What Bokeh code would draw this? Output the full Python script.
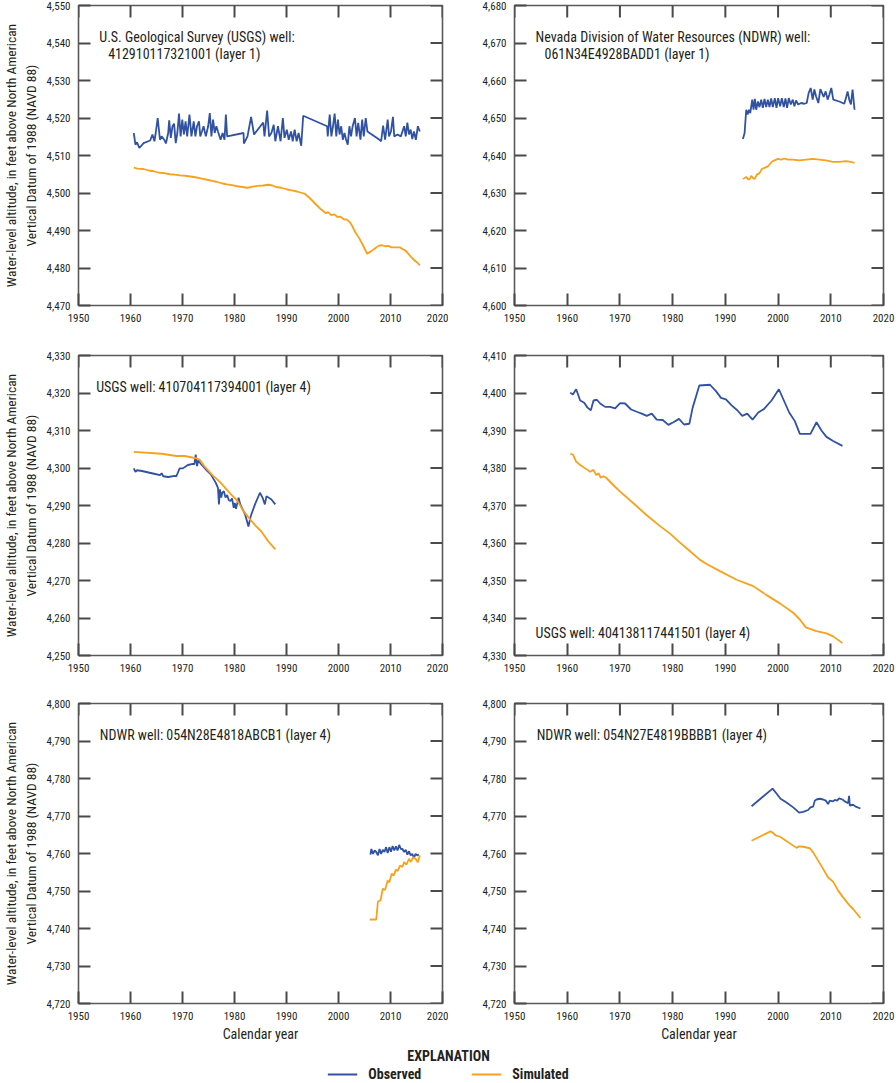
import math

from bokeh.plotting import figure
from bokeh.models import (Range1d, FixedTicker, NumeralTickFormatter,
                          Legend, LegendItem)
from bokeh.core.properties import value
from bokeh.layouts import column, row
from bokeh.embed import file_html
from bokeh.resources import INLINE

# ---------------------------------------------------------------------------
# Water-level hydrographs: observed vs simulated, six wells
# ---------------------------------------------------------------------------

# USGS well 412910117321001 (layer 1)
w1_obs_year = [1960.63, 1960.95, 1961.26, 1961.70, 1962.52, 1963.78, 1964.22, 1964.60, 1964.85, 1965.23,
               1965.67, 1965.99, 1966.49, 1966.81, 1967.25, 1967.44, 1967.75, 1968.07, 1968.38, 1968.70,
               1969.01, 1969.33, 1969.64, 1969.96, 1970.27, 1970.59, 1970.90, 1971.34, 1971.72, 1972.16,
               1972.48, 1972.79, 1973.17, 1973.42, 1973.74, 1974.05, 1974.49, 1974.93, 1975.25, 1975.56,
               1975.88, 1976.19, 1976.51, 1976.82, 1977.33, 1977.71, 1978.08, 1978.34, 1978.59, 1981.74,
               1981.80, 1982.50, 1983.19, 1983.76, 1985.52, 1985.77, 1986.28, 1986.65, 1987.10, 1987.54,
               1987.85, 1988.36, 1988.86, 1989.30, 1989.62, 1990.06, 1990.43, 1990.88, 1991.19, 1991.57,
               1991.95, 1992.33, 1992.83, 1993.21, 1997.81, 1997.93, 1998.31, 1998.63, 1998.94, 1999.26,
               1999.57, 1999.89, 2000.20, 2000.52, 2000.83, 2001.15, 2001.46, 2001.78, 2002.09, 2002.41,
               2002.72, 2003.16, 2003.48, 2003.79, 2004.23, 2004.55, 2004.86, 2005.24, 2005.56, 2007.89,
               2008.20, 2008.58, 2008.96, 2009.46, 2009.72, 2010.09, 2010.47, 2010.72, 2011.35, 2011.99,
               2012.62, 2012.93, 2013.24, 2013.56, 2013.88, 2014.19, 2014.51, 2014.88, 2015.26, 2015.64]
w1_obs_level = [4516.0, 4512.9, 4513.5, 4512.0, 4513.3, 4514.0, 4515.6, 4513.8, 4516.0, 4520.0,
                4514.2, 4515.1, 4514.2, 4513.2, 4516.0, 4519.4, 4514.7, 4517.8, 4518.5, 4513.3,
                4516.0, 4521.2, 4515.1, 4519.6, 4515.6, 4519.1, 4515.1, 4520.9, 4515.1, 4519.1,
                4515.1, 4517.8, 4519.1, 4515.1, 4516.4, 4517.8, 4515.1, 4517.8, 4521.3, 4515.1,
                4519.6, 4516.0, 4517.8, 4516.4, 4514.2, 4516.0, 4514.2, 4520.9, 4515.1, 4516.0,
                4513.2, 4515.1, 4520.3, 4515.6, 4518.8, 4515.1, 4522.0, 4515.1, 4516.0, 4518.2,
                4513.8, 4517.8, 4513.8, 4520.0, 4514.7, 4516.9, 4514.2, 4516.4, 4513.8, 4516.9,
                4513.8, 4516.0, 4512.6, 4520.6, 4517.8, 4515.1, 4520.9, 4515.1, 4517.8, 4521.2,
                4515.1, 4519.6, 4515.6, 4517.8, 4514.2, 4516.0, 4514.2, 4512.9, 4517.8, 4515.1,
                4517.8, 4520.0, 4515.1, 4518.7, 4514.2, 4519.6, 4515.1, 4520.0, 4516.4, 4514.2,
                4513.8, 4518.0, 4514.2, 4519.6, 4515.1, 4516.4, 4520.3, 4515.1, 4515.6, 4515.1,
                4517.8, 4515.1, 4518.8, 4515.6, 4516.9, 4514.4, 4516.4, 4514.2, 4517.8, 4516.4]
w1_sim_year = [1960.63, 1961.3, 1962.5, 1963.5, 1964.5, 1965.5, 1966.5, 1967.5, 1968.5, 1969.5,
               1970.5, 1971.5, 1972.5, 1973.5, 1974.5, 1975.5, 1976.5, 1977.5, 1978.5, 1979.5,
               1980.5, 1981.5, 1982.5, 1983.5, 1984.5, 1985.5, 1986.5, 1987.3, 1988.0, 1989.0,
               1990.0, 1991.0, 1992.0, 1993.5, 1994.5, 1995.5, 1996.5, 1997.6, 1998.0, 1998.6,
               1999.2, 1999.8, 2000.4, 2001.0, 2001.6, 2002.2, 2002.6, 2003.2, 2004.0, 2004.8,
               2005.5, 2006.3, 2007.0, 2007.7, 2008.3, 2009.0, 2009.6, 2010.2, 2011.0, 2011.8,
               2012.4, 2013.0, 2013.6, 2014.2, 2014.8, 2015.2, 2015.64]
w1_sim_level = [4506.8, 4506.5, 4506.4, 4506.0, 4505.8, 4505.4, 4505.3, 4505.0, 4504.9, 4504.7,
                4504.6, 4504.4, 4504.2, 4503.9, 4503.6, 4503.3, 4503.0, 4502.6, 4502.3, 4502.1,
                4501.8, 4501.6, 4501.4, 4501.7, 4501.9, 4502.0, 4502.2, 4502.0, 4501.6, 4501.4,
                4501.0, 4500.7, 4500.4, 4499.8, 4498.6, 4497.2, 4495.8, 4494.6, 4494.9, 4494.1,
                4494.3, 4493.6, 4493.7, 4493.0, 4492.9, 4492.2, 4491.3, 4489.6, 4487.9, 4485.8,
                4483.8, 4484.5, 4485.2, 4485.9, 4486.1, 4485.8, 4485.9, 4485.5, 4485.5, 4485.5,
                4485.0, 4484.5, 4483.5, 4482.6, 4481.8, 4481.4, 4480.7]

# NDWR well 061N34E4928BADD1 (layer 1)
w2_obs_year = [1993.33, 1993.65, 1993.96, 1994.22, 1994.47, 1994.72, 1995.10, 1995.35, 1995.60, 1995.85,
               1996.17, 1996.48, 1996.80, 1997.11, 1997.43, 1997.74, 1998.06, 1998.37, 1998.69, 1999.00,
               1999.38, 1999.70, 2000.01, 2000.39, 2000.71, 2001.08, 2001.40, 2001.71, 2002.03, 2002.41,
               2002.79, 2003.10, 2003.42, 2003.80, 2004.36, 2004.99, 2005.43, 2005.81, 2006.19, 2006.57,
               2006.88, 2007.20, 2007.64, 2008.02, 2008.33, 2008.65, 2009.03, 2009.40, 2009.72, 2010.10,
               2010.47, 2011.61, 2012.55, 2012.87, 2013.19, 2013.50, 2013.82, 2014.13, 2014.51]
w2_obs_level = [4644.4, 4646.0, 4652.2, 4650.9, 4652.2, 4651.3, 4654.9, 4652.2, 4655.1, 4652.2,
                4654.4, 4652.9, 4654.9, 4652.7, 4655.1, 4652.9, 4654.9, 4652.9, 4655.2, 4652.9,
                4655.3, 4652.7, 4655.3, 4653.1, 4655.3, 4652.9, 4655.2, 4652.7, 4655.3, 4653.6,
                4654.9, 4653.1, 4654.7, 4653.6, 4654.0, 4653.8, 4654.0, 4656.7, 4658.0, 4654.9,
                4657.6, 4655.8, 4654.0, 4657.7, 4656.7, 4655.6, 4657.1, 4654.9, 4656.2, 4658.0,
                4654.9, 4654.4, 4653.8, 4655.3, 4657.1, 4654.9, 4653.6, 4657.6, 4652.2]
w2_sim_year = [1993.33, 1993.96, 1994.28, 1994.59, 1994.91, 1995.22, 1995.54, 1995.98, 1996.48, 1996.93,
               1997.43, 1998.06, 1998.50, 1998.88, 1999.32, 1999.95, 2000.58, 2001.21, 2001.84, 2002.79,
               2004.05, 2005.31, 2006.57, 2007.83, 2009.09, 2010.35, 2011.61, 2012.87, 2013.82, 2014.51]
w2_sim_level = [4633.7, 4634.3, 4633.7, 4633.6, 4634.6, 4634.0, 4633.7, 4634.9, 4635.3, 4636.4,
                4636.7, 4637.1, 4637.8, 4638.4, 4638.7, 4639.1, 4638.9, 4639.2, 4638.9, 4638.9,
                4638.7, 4638.9, 4639.1, 4638.9, 4638.7, 4638.3, 4638.3, 4638.5, 4638.3, 4638.0]

# USGS well 410704117394001 (layer 4)
w3_obs_year = [1960.63, 1960.95, 1961.26, 1962.21, 1964.10, 1965.67, 1965.99, 1966.30, 1967.25, 1968.51,
               1968.82, 1969.45, 1970.08, 1971.03, 1971.97, 1972.29, 1972.54, 1972.79, 1973.04, 1973.55,
               1974.49, 1975.44, 1976.38, 1976.82, 1977.01, 1977.20, 1977.45, 1977.64, 1977.96, 1978.27,
               1978.59, 1978.90, 1979.22, 1979.53, 1979.85, 1980.04, 1980.29, 1980.48, 1980.79, 1981.11,
               1982.05, 1982.68, 1983.13, 1983.94, 1984.89, 1985.39, 1985.84, 1986.15, 1987.10, 1987.85]
w3_obs_level = [4299.9, 4299.0, 4299.4, 4299.2, 4298.6, 4298.1, 4298.6, 4297.8, 4297.6, 4297.9,
                4297.8, 4299.9, 4299.9, 4300.8, 4301.1, 4301.0, 4303.6, 4300.5, 4302.0, 4301.1,
                4299.6, 4298.3, 4296.1, 4294.7, 4290.3, 4294.3, 4292.1, 4293.4, 4293.8, 4292.1,
                4292.8, 4291.4, 4291.2, 4291.9, 4289.4, 4290.7, 4289.1, 4290.3, 4292.1, 4290.3,
                4287.6, 4284.4, 4287.2, 4290.3, 4293.4, 4292.1, 4290.3, 4292.5, 4291.6, 4290.3]
w3_sim_year = [1960.63, 1965.99, 1968.82, 1970.40, 1972.60, 1973.23, 1974.18, 1975.75, 1977.33, 1979.22,
               1980.48, 1981.74, 1983.00, 1984.13, 1985.20, 1986.46, 1987.85]
w3_sim_level = [4304.3, 4303.8, 4303.2, 4303.2, 4302.6, 4302.3, 4300.5, 4298.1, 4296.1, 4293.1,
                4291.4, 4288.5, 4286.3, 4284.5, 4283.0, 4280.5, 4278.3]

# USGS well 404138117441501 (layer 4)
w4_obs_year = [1960.57, 1961.07, 1961.70, 1962.46, 1963.22, 1963.85, 1964.48, 1964.99, 1965.62, 1966.25,
               1967.20, 1968.14, 1969.09, 1970.04, 1970.98, 1972.12, 1973.19, 1974.14, 1975.09, 1976.04,
               1976.98, 1978.12, 1979.19, 1980.14, 1981.21, 1982.16, 1983.17, 1983.80, 1985.06, 1987.08,
               1988.22, 1989.17, 1990.11, 1991.19, 1992.26, 1993.21, 1994.15, 1995.16, 1996.24, 1997.31,
               1998.76, 2000.15, 2001.10, 2002.11, 2003.18, 2004.13, 2006.15, 2007.29, 2008.23, 2009.18,
               2010.44, 2012.21]
w4_obs_level = [4400.1, 4399.6, 4401.0, 4398.0, 4397.4, 4396.1, 4395.4, 4398.0, 4398.2, 4397.2,
                4396.3, 4396.3, 4395.9, 4397.3, 4397.2, 4395.6, 4395.0, 4394.5, 4393.9, 4394.5,
                4392.9, 4392.8, 4391.5, 4392.2, 4393.1, 4391.6, 4391.8, 4396.1, 4402.0, 4402.2,
                4400.5, 4398.7, 4398.3, 4396.7, 4395.4, 4393.9, 4394.5, 4392.9, 4394.8, 4395.7,
                4398.0, 4401.0, 4398.0, 4394.8, 4392.5, 4389.1, 4389.1, 4392.2, 4390.0, 4388.3,
                4387.2, 4385.9]
w4_sim_year = [1960.57, 1961.07, 1961.70, 1962.46, 1963.41, 1964.36, 1964.99, 1965.49, 1965.93, 1966.38,
               1966.88, 1967.39, 1968.78, 1970.04, 1972.56, 1975.09, 1977.61, 1979.51, 1981.40, 1983.30,
               1985.19, 1986.45, 1988.98, 1992.13, 1995.29, 1997.82, 2000.34, 2002.87, 2004.13, 2005.26,
               2007.29, 2009.18, 2010.44, 2012.21]
w4_sim_level = [4383.8, 4383.6, 4381.7, 4380.8, 4379.9, 4379.0, 4379.5, 4378.1, 4378.6, 4377.4,
                4377.8, 4377.4, 4375.4, 4373.7, 4370.6, 4367.4, 4364.5, 4362.5, 4360.1, 4357.8,
                4355.5, 4354.4, 4352.5, 4350.2, 4348.5, 4346.1, 4343.9, 4341.4, 4339.6, 4337.5,
                4336.5, 4335.9, 4335.1, 4333.3]

# NDWR well 054N28E4818ABCB1 (layer 4)
w5_obs_year = [2006.13, 2006.32, 2006.63, 2006.95, 2007.26, 2007.58, 2007.89, 2008.20, 2008.52, 2008.84,
               2009.15, 2009.46, 2009.78, 2010.09, 2010.41, 2010.72, 2011.04, 2011.36, 2011.67, 2011.99,
               2012.30, 2012.62, 2012.93, 2013.25, 2013.56, 2013.88, 2014.19, 2014.51, 2014.82, 2015.14,
               2015.45]
w5_obs_level = [4759.7, 4761.2, 4759.9, 4760.8, 4760.4, 4759.5, 4761.2, 4759.9, 4761.0, 4760.4,
                4761.7, 4760.1, 4761.7, 4760.5, 4762.0, 4760.8, 4761.9, 4760.8, 4762.3, 4761.2,
                4761.2, 4760.4, 4761.0, 4759.7, 4760.6, 4759.5, 4759.9, 4758.8, 4759.9, 4759.5,
                4759.7]
w5_sim_year = [2006.00, 2007.26, 2007.58, 2008.08, 2008.52, 2008.96, 2009.46, 2009.78, 2010.22, 2010.60,
               2011.04, 2011.36, 2011.86, 2012.30, 2012.62, 2013.06, 2013.56, 2013.88, 2014.38, 2014.82,
               2015.26, 2015.64]
w5_sim_level = [4742.4, 4742.4, 4747.2, 4747.5, 4750.6, 4750.3, 4752.8, 4752.3, 4754.6, 4754.1,
                4755.7, 4755.3, 4756.8, 4756.4, 4757.7, 4757.0, 4758.6, 4757.7, 4759.0, 4758.6,
                4757.7, 4759.5]

# NDWR well 054N27E4819BBBB1 (layer 4)
w6_obs_year = [1994.97, 1998.95, 1999.70, 2000.47, 2001.60, 2002.87, 2004.00, 2004.76, 2005.71, 2006.15,
               2006.65, 2006.97, 2007.29, 2007.92, 2008.55, 2009.05, 2009.49, 2009.81, 2010.44, 2010.76,
               2011.20, 2011.58, 2012.21, 2012.65, 2013.28, 2013.47, 2013.60, 2014.23, 2014.73, 2015.62]
w6_obs_level = [4772.6, 4777.3, 4776.0, 4774.6, 4773.6, 4772.3, 4770.9, 4771.1, 4771.6, 4772.3,
                4772.5, 4774.1, 4774.4, 4774.6, 4774.4, 4774.1, 4773.2, 4774.1, 4773.9, 4774.3,
                4774.1, 4774.7, 4774.4, 4773.9, 4773.4, 4775.4, 4772.8, 4773.0, 4772.5, 4772.0]
w6_sim_year = [1994.97, 1998.57, 1998.95, 1999.58, 2000.34, 2001.29, 2002.23, 2003.50, 2004.00, 2004.76,
               2006.02, 2006.65, 2007.60, 2008.55, 2009.49, 2010.44, 2010.76, 2011.39, 2012.34, 2013.47,
               2014.23, 2015.62]
w6_sim_level = [4763.4, 4765.9, 4765.6, 4764.8, 4764.5, 4763.6, 4762.7, 4761.5, 4761.9, 4761.8,
                4761.4, 4760.3, 4758.1, 4755.9, 4753.6, 4752.5, 4751.7, 4750.1, 4748.3, 4746.3,
                4745.2, 4742.8]

year_ticks = [1950, 1960, 1970, 1980, 1990, 2000, 2010, 2020]

# ---------------------------------------------------------------------------
FONT = "Roboto Condensed"
OBS_COLOR = "#3152A3"
SIM_COLOR = "#F9A11B"
FRAME_COLOR = "#5a5a5a"
TICK_COLOR = "#4a4a4a"
TEXT_COLOR = "#231f20"
YLABEL = "Water-level altitude, in feet above North American\nVertical Datum of 1988 (NAVD 88)"


def panel(y_lo, y_hi, obs_x, obs_y, sim_x, sim_y, notes, height, left, right, bottom,
          ylabel=False, xlabel=False):
    p = figure(width=448, height=height, output_backend="svg", toolbar_location=None,
               x_range=Range1d(1950, 2020), y_range=Range1d(y_lo, y_hi),
               min_border_left=left, min_border_right=right,
               min_border_top=5, min_border_bottom=bottom)
    p.grid.visible = False
    p.outline_line_color = FRAME_COLOR
    p.outline_line_width = 1.6

    lt = list(range(y_lo, y_hi + 1, 10))
    p.xaxis.ticker = FixedTicker(ticks=year_ticks)
    p.yaxis.ticker = FixedTicker(ticks=lt)
    p.yaxis.formatter = NumeralTickFormatter(format="0,0")
    for ax in p.xaxis + p.yaxis:
        ax.major_tick_in = 12
        ax.major_tick_out = 0
        ax.minor_tick_line_color = None
        ax.axis_line_color = None
        ax.major_tick_line_color = TICK_COLOR
        ax.major_tick_line_width = 2
        ax.major_label_text_font = FONT
        ax.major_label_text_font_size = "11px"
        ax.major_label_text_color = TEXT_COLOR
        ax.major_label_standoff = 8

    # inward ticks repeated along the right and top edges of the frame
    p.ray(x=[2020] * len(lt), y=lt, length=12, length_units="screen",
          angle=math.pi, line_color=TICK_COLOR, line_width=2)
    p.ray(x=year_ticks, y=[y_hi] * len(year_ticks), length=12, length_units="screen",
          angle=-math.pi / 2, line_color=TICK_COLOR, line_width=2)

    p.line(obs_x, obs_y, line_color=OBS_COLOR, line_width=1.8)
    p.line(sim_x, sim_y, line_color=SIM_COLOR, line_width=1.8)

    if ylabel:
        p.yaxis.axis_label = YLABEL
        p.yaxis.axis_label_text_font = FONT
        p.yaxis.axis_label_text_font_size = "13.5px"
        p.yaxis.axis_label_text_font_style = "normal"
        p.yaxis.axis_label_text_color = TEXT_COLOR
        p.yaxis.axis_label_standoff = 5
    if xlabel:
        p.xaxis.axis_label = "Calendar year"
        p.xaxis.axis_label_text_font = FONT
        p.xaxis.axis_label_text_font_size = "14px"
        p.xaxis.axis_label_text_font_style = "normal"
        p.xaxis.axis_label_text_color = TEXT_COLOR
        p.xaxis.axis_label_standoff = 3

    # well identification text inside the frame
    p.text(x=[n[0] for n in notes], y=[n[1] for n in notes], text=[n[2] for n in notes],
           text_font=value(FONT), text_font_size="14px", text_color=TEXT_COLOR,
           text_baseline="alphabetic", text_align="left")
    return p


p1 = panel(4470, 4550, w1_obs_year, w1_obs_level, w1_sim_year, w1_sim_level,
           [(1954.0, 4541.5, "U.S. Geological Survey (USGS) well:"),
            (1955.7, 4537.0, "412910117321001 (layer 1)")],
           350, 72, 6, 45, ylabel=True)
p2 = panel(4600, 4680, w2_obs_year, w2_obs_level, w2_sim_year, w2_sim_level,
           [(1954.0, 4671.5, "Nevada Division of Water Resources (NDWR) well:"),
            (1955.7, 4667.0, "061N34E4928BADD1 (layer 1)")],
           350, 66, 13, 45)
p3 = panel(4250, 4330, w3_obs_year, w3_obs_level, w3_sim_year, w3_sim_level,
           [(1953.4, 4321.6, "USGS well: 410704117394001 (layer 4)")],
           348, 72, 6, 43, ylabel=True)
p4 = panel(4330, 4410, w4_obs_year, w4_obs_level, w4_sim_year, w4_sim_level,
           [(1954.0, 4335.9, "USGS well: 404138117441501 (layer 4)")],
           348, 66, 13, 43)
p5 = panel(4720, 4800, w5_obs_year, w5_obs_level, w5_sim_year, w5_sim_level,
           [(1954.1, 4791.5, "NDWR well: 054N28E4818ABCB1 (layer 4)")],
           346, 72, 6, 41, ylabel=True, xlabel=True)
p6 = panel(4720, 4800, w6_obs_year, w6_obs_level, w6_sim_year, w6_sim_level,
           [(1954.2, 4791.5, "NDWR well: 054N27E4819BBBB1 (layer 4)")],
           346, 66, 13, 41, xlabel=True)

# Explanation strip: the legend proxies carry a series that falls outside
# this strip's ranges, so only their legend swatches are visible.
lg = figure(width=896, height=39, output_backend="svg", toolbar_location=None,
            x_range=Range1d(0, 1), y_range=Range1d(0, 1), min_border=0,
            title="EXPLANATION")
lg.title.align = "center"
lg.title.text_font = FONT
lg.title.text_font_style = "bold"
lg.title.text_font_size = "14px"
lg.title.text_color = TEXT_COLOR
lg.title.standoff = 2
lg.xaxis.visible = False
lg.yaxis.visible = False
lg.grid.visible = False
lg.outline_line_color = None
r_obs = lg.line(w3_obs_year, w3_obs_level, line_color=OBS_COLOR, line_width=1.8)
r_sim = lg.line(w3_sim_year, w3_sim_level, line_color=SIM_COLOR, line_width=1.8)
legend = Legend(items=[LegendItem(label="Observed", renderers=[r_obs]),
                       LegendItem(label="Simulated", renderers=[r_sim])],
                orientation="horizontal", location="center",
                label_text_font=FONT, label_text_font_style="bold",
                label_text_font_size="14px", label_text_color=TEXT_COLOR,
                glyph_width=30, glyph_height=12, label_standoff=11, spacing=50,
                border_line_color=None, background_fill_alpha=0,
                padding=0, margin=0)
lg.add_layout(legend)

layout = column(row(p1, p2), row(p3, p4), row(p5, p6), lg)

with open("out.html", "w") as f:
    f.write(file_html(layout, INLINE))
